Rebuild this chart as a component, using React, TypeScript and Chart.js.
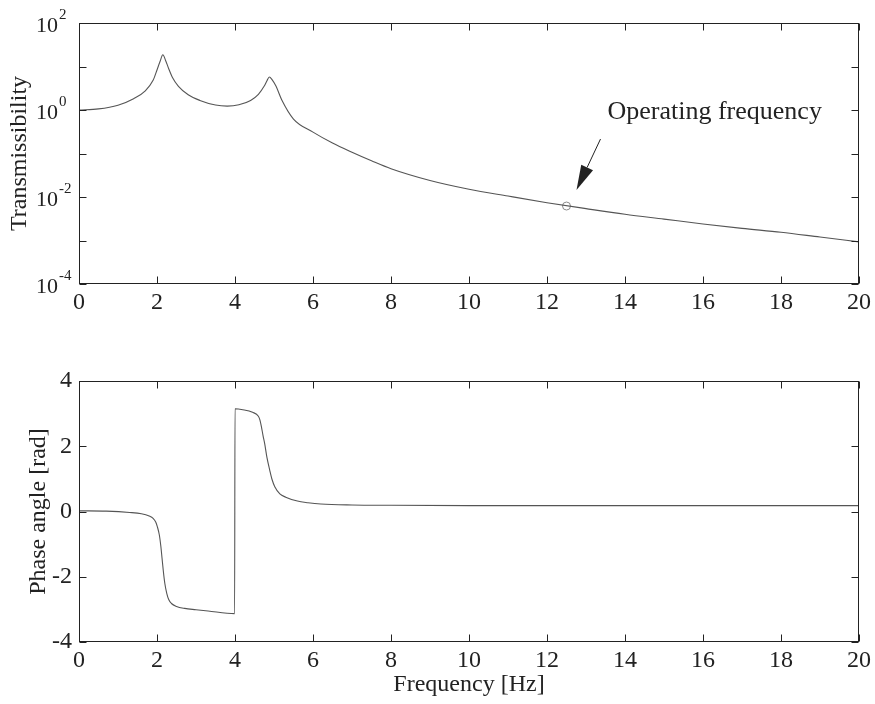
import { useEffect, useRef } from 'react';
import { Chart, registerables } from 'chart.js';

Chart.register(...registerables);

// ---------- data ----------
const freqT = [0, 0.5, 1.0, 1.4, 1.7, 1.9, 2.0, 2.08, 2.15, 2.22, 2.3, 2.4, 2.55, 2.8, 3.1, 3.5, 3.8, 4.1, 4.4, 4.6, 4.75, 4.82, 4.88, 4.95, 5.05, 5.2, 5.5, 6.0, 6.5, 7.0, 7.5, 8, 9, 10, 11, 12, 13, 14, 15, 16, 17, 18, 19, 20];
const transmissibility = [1.0, 1.06, 1.29, 1.82, 2.75, 4.8, 8.3, 13.2, 18.6, 13.8, 8.9, 5.5, 3.5, 2.24, 1.66, 1.3, 1.23, 1.32, 1.66, 2.29, 3.55, 4.7, 5.75, 5.0, 3.55, 1.7, 0.62, 0.31, 0.174, 0.107, 0.068, 0.0447, 0.024, 0.0151, 0.0105, 0.0074, 0.0054, 0.004, 0.0031, 0.0024, 0.0019, 0.00155, 0.0012, 0.00093];

const freqP = [0, 0.7, 1.3, 1.6, 1.8, 1.9, 1.97, 2.01, 2.06, 2.1, 2.13, 2.16, 2.2, 2.25, 2.3, 2.37, 2.5, 2.71, 3.0, 3.31, 3.99, 4.0, 4.2, 4.45, 4.6, 4.64, 4.68, 4.72, 4.76, 4.82, 4.89, 4.95, 5.02, 5.15, 5.3, 5.6, 5.87, 6.2, 7, 8, 10, 12, 14, 16, 18, 20];
const phaseAngle = [0.02, 0.01, -0.03, -0.07, -0.14, -0.21, -0.33, -0.47, -0.72, -1.08, -1.44, -1.8, -2.2, -2.51, -2.7, -2.82, -2.91, -2.97, -3.01, -3.05, -3.13, 3.15, 3.12, 3.04, 2.92, 2.8, 2.58, 2.32, 2.09, 1.65, 1.27, 0.98, 0.76, 0.54, 0.44, 0.32, 0.27, 0.23, 0.2, 0.19, 0.18, 0.18, 0.18, 0.18, 0.18, 0.18];

const opFreq = [12.5];
const opTrans = [0.0062];

const freqTicks = [0, 2, 4, 6, 8, 10, 12, 14, 16, 18, 20];
const logTickValues = [1e-4, 1e-3, 1e-2, 1e-1, 1e0, 1e1, 1e2];
const logLabelExponents = [-4, -2, 0, 2];
const phaseTicks = [-4, -2, 0, 2, 4];

const annotationText = 'Operating frequency';
const yTitleTop = 'Transmissibility';
const yTitleBottom = 'Phase angle [rad]';
const xTitle = 'Frequency [Hz]';

// ---------- style ----------
const FONT = "'Liberation Serif', 'Times New Roman', serif";
const INK = '#222222';
const CURVE = '#555555';
const TICK_LEN = 7;

function framePlugin(xVals: number[], yVals: number[]) {
  return {
    id: 'frameTicks',
    afterDraw(chart: any) {
      const { ctx, chartArea, scales } = chart;
      const { left, right, top, bottom } = chartArea;
      const L = Math.round(left) + 0.5, R = Math.round(right) - 0.5;
      const T = Math.round(top) + 0.5, B = Math.round(bottom) - 0.5;
      ctx.save();
      ctx.strokeStyle = INK;
      ctx.lineWidth = 1;
      ctx.strokeRect(L, T, R - L, B - T);
      ctx.beginPath();
      xVals.forEach((v) => {
        const px = Math.round(scales.x.getPixelForValue(v)) + 0.5;
        ctx.moveTo(px, B); ctx.lineTo(px, B - TICK_LEN);
        ctx.moveTo(px, T); ctx.lineTo(px, T + TICK_LEN);
      });
      yVals.forEach((v) => {
        const py = Math.round(scales.y.getPixelForValue(v)) + 0.5;
        ctx.moveTo(L, py); ctx.lineTo(L + TICK_LEN, py);
        ctx.moveTo(R, py); ctx.lineTo(R - TICK_LEN, py);
      });
      ctx.stroke();
      ctx.restore();
    },
  };
}

function titlePlugin(yTitle: string, yTitleX: number, xTitleText?: string, xTitleY?: number) {
  return {
    id: 'titles',
    afterDraw(chart: any) {
      const { ctx, chartArea } = chart;
      ctx.save();
      ctx.fillStyle = INK;
      ctx.font = `24px ${FONT}`;
      ctx.textAlign = 'center';
      ctx.textBaseline = 'middle';
      ctx.translate(yTitleX, (chartArea.top + chartArea.bottom) / 2);
      ctx.rotate(-Math.PI / 2);
      ctx.fillText(yTitle, 0, 0);
      ctx.restore();
      if (xTitleText) {
        ctx.save();
        ctx.fillStyle = INK;
        ctx.font = `24px ${FONT}`;
        ctx.textAlign = 'center';
        ctx.textBaseline = 'middle';
        ctx.fillText(xTitleText, (chartArea.left + chartArea.right) / 2, xTitleY);
        ctx.restore();
      }
    },
  };
}

const logLabelPlugin = {
  id: 'logLabels',
  afterDraw(chart: any) {
    const { ctx, chartArea, scales } = chart;
    ctx.save();
    ctx.fillStyle = INK;
    ctx.textBaseline = 'middle';
    logLabelExponents.forEach((e) => {
      const py = scales.y.getPixelForValue(Math.pow(10, e));
      ctx.font = `22px ${FONT}`;
      ctx.textAlign = 'right';
      ctx.fillText('10', chartArea.left - 21, py + 3);
      ctx.font = `15px ${FONT}`;
      ctx.textAlign = 'left';
      ctx.fillText(String(e), chartArea.left - 20, py - 8);
    });
    ctx.restore();
  },
};

const annotationPlugin = {
  id: 'opAnnotation',
  afterDraw(chart: any) {
    const { ctx, scales } = chart;
    const px = scales.x.getPixelForValue(opFreq[0]);
    const py = scales.y.getPixelForValue(opTrans[0]);
    const tail = { x: px + 34, y: py - 67 };
    const tip = { x: px + 10, y: py - 16 };
    const dx = tip.x - tail.x, dy = tip.y - tail.y;
    const len = Math.hypot(dx, dy);
    const ux = dx / len, uy = dy / len;
    const hl = 25, hw = 6.5;
    const bx = tip.x - ux * hl, by = tip.y - uy * hl;
    ctx.save();
    ctx.strokeStyle = INK;
    ctx.fillStyle = INK;
    ctx.lineWidth = 1;
    ctx.beginPath();
    ctx.moveTo(tail.x, tail.y);
    ctx.lineTo(bx, by);
    ctx.stroke();
    ctx.beginPath();
    ctx.moveTo(tip.x, tip.y);
    ctx.lineTo(bx + uy * hw, by - ux * hw);
    ctx.lineTo(bx - uy * hw, by + ux * hw);
    ctx.closePath();
    ctx.fill();
    ctx.font = `26px ${FONT}`;
    ctx.textAlign = 'left';
    ctx.textBaseline = 'middle';
    ctx.fillText(annotationText, px + 41, py - 94);
    ctx.restore();
  },
};

export default function App() {
  const topRef = useRef<HTMLCanvasElement>(null);
  const botRef = useRef<HTMLCanvasElement>(null);

  useEffect(() => {
    const tickFont = { family: FONT, size: 24 };
    const top = new Chart(topRef.current!, {
      type: 'line',
      data: {
        datasets: [
          {
            data: freqT.map((f, i) => ({ x: f, y: transmissibility[i] })),
            borderColor: CURVE,
            borderWidth: 1.1,
            pointRadius: 0,
            cubicInterpolationMode: 'monotone',
            fill: false,
          },
          {
            data: opFreq.map((f, i) => ({ x: f, y: opTrans[i] })),
            showLine: false,
            pointRadius: 4,
            pointStyle: 'circle',
            pointBorderColor: '#8a8a8a',
            pointBackgroundColor: 'rgba(0,0,0,0)',
            pointBorderWidth: 1,
          },
        ],
      },
      options: {
        animation: false,
        responsive: false,
        devicePixelRatio: 1,
        layout: { padding: { left: 0, right: 15, top: 23, bottom: 0 } },
        plugins: { legend: { display: false }, tooltip: { enabled: false } },
        scales: {
          x: {
            type: 'linear', min: 0, max: 20,
            ticks: { stepSize: 2, font: tickFont, color: INK, padding: 4, maxRotation: 0, autoSkip: false },
            grid: { display: false, drawTicks: false },
            border: { display: false },
            afterFit: (s: any) => { s.height = 56; },
          },
          y: {
            type: 'logarithmic', min: 1e-4, max: 1e2,
            ticks: { display: false },
            grid: { display: false, drawTicks: false },
            border: { display: false },
            afterFit: (s: any) => { s.width = 79; },
          },
        },
      } as any,
      plugins: [framePlugin(freqTicks, logTickValues), logLabelPlugin, titlePlugin(yTitleTop, 20), annotationPlugin],
    });

    const bot = new Chart(botRef.current!, {
      type: 'line',
      data: {
        datasets: [
          {
            data: freqP.map((f, i) => ({ x: f, y: phaseAngle[i] })),
            borderColor: CURVE,
            borderWidth: 1.1,
            pointRadius: 0,
            cubicInterpolationMode: 'monotone',
            fill: false,
          },
        ],
      },
      options: {
        animation: false,
        responsive: false,
        devicePixelRatio: 1,
        layout: { padding: { left: 0, right: 15, top: 41, bottom: 0 } },
        plugins: { legend: { display: false }, tooltip: { enabled: false } },
        scales: {
          x: {
            type: 'linear', min: 0, max: 20,
            ticks: { stepSize: 2, font: tickFont, color: INK, padding: 4, maxRotation: 0, autoSkip: false },
            grid: { display: false, drawTicks: false },
            border: { display: false },
            afterFit: (s: any) => { s.height = 62; },
          },
          y: {
            type: 'linear', min: -4, max: 4,
            ticks: { stepSize: 2, font: tickFont, color: INK, padding: 7 },
            grid: { display: false, drawTicks: false },
            border: { display: false },
            afterFit: (s: any) => { s.width = 79; },
          },
        },
      } as any,
      plugins: [framePlugin(freqTicks, phaseTicks), titlePlugin(yTitleBottom, 39, xTitle, 345)],
    });

    return () => {
      top.destroy();
      bot.destroy();
    };
  }, []);

  return (
    <div style={{ position: 'fixed', left: 0, top: 0, width: 875, height: 704, background: '#fff' }}>
      <canvas ref={topRef} width={875} height={340} style={{ position: 'absolute', left: 0, top: 0, width: 875, height: 340 }} />
      <canvas ref={botRef} width={875} height={364} style={{ position: 'absolute', left: 0, top: 340, width: 875, height: 364 }} />
    </div>
  );
}
